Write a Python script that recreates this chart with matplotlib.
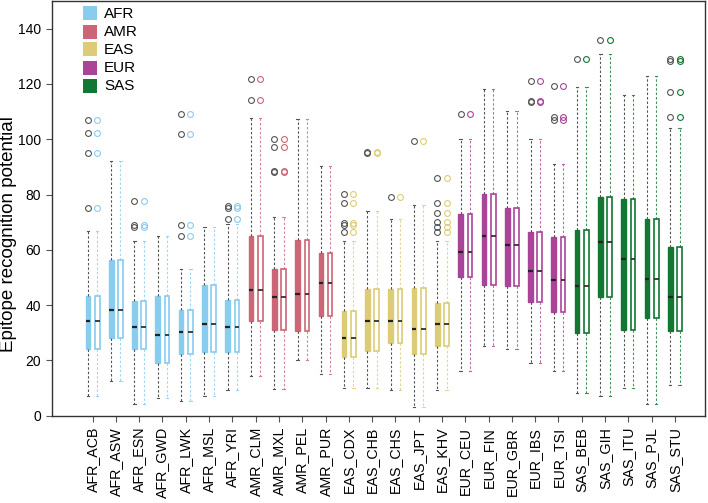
import matplotlib
matplotlib.use("Agg")
import matplotlib.pyplot as plt
from matplotlib.patches import Rectangle

plt.rcParams['font.family'] = ['Liberation Sans', 'DejaVu Sans']

populations = ["AFR_ACB", "AFR_ASW", "AFR_ESN", "AFR_GWD", "AFR_LWK", "AFR_MSL", "AFR_YRI",
               "AMR_CLM", "AMR_MXL", "AMR_PEL", "AMR_PUR",
               "EAS_CDX", "EAS_CHB", "EAS_CHS", "EAS_JPT", "EAS_KHV",
               "EUR_CEU", "EUR_FIN", "EUR_GBR", "EUR_IBS", "EUR_TSI",
               "SAS_BEB", "SAS_GIH", "SAS_ITU", "SAS_PJL", "SAS_STU"]
super_pops = ["AFR", "AMR", "EAS", "EUR", "SAS"]
pop_colors = ["#88CCEE", "#CC6677", "#DDCC77", "#AA4499", "#117733"]

whisker_low = [7.2, 12.4, 4.1, 6.3, 5.3, 7.2, 9.3,
               14.3, 9.5, 20.1, 15.1,
               10.1, 10.1, 9.3, 3.0, 9.3,
               16.3, 25.2, 24.0, 19.2, 16.3,
               8.1, 7.1, 10.1, 4.1, 11.1]
q1 = [24.0, 28.2, 24.0, 19.2, 22.2, 23.1, 23.0,
      34.1, 31.0, 30.5, 36.1,
      21.1, 23.5, 26.2, 22.2, 25.2,
      50.0, 47.1, 47.0, 41.2, 37.4,
      30.0, 43.0, 31.0, 35.4, 30.5]
median = [34.1, 38.2, 32.1, 29.2, 30.1, 33.1, 32.2,
          45.5, 43.0, 44.0, 48.1,
          28.0, 34.2, 34.2, 31.2, 33.1,
          59.2, 65.1, 61.8, 52.2, 49.0,
          47.0, 62.7, 56.7, 49.6, 43.1]
q3 = [43.3, 56.4, 41.6, 43.3, 38.1, 47.1, 41.9,
      64.9, 53.0, 63.5, 58.7,
      37.9, 45.7, 45.7, 46.2, 40.6,
      72.9, 80.1, 75.1, 66.4, 64.5,
      67.0, 79.0, 78.4, 71.0, 61.1]
whisker_high = [66.7, 92.0, 63.1, 65.1, 53.1, 68.1, 69.5,
                107.5, 71.9, 107.2, 90.2,
                63.1, 74.1, 71.0, 76.2, 63.1,
                100.2, 118.1, 110.2, 100.2, 91.1,
                118.9, 131.0, 115.9, 123.0, 104.0]
outliers = [[75.1, 95.1, 102.4, 107.1], [], [68.1, 68.9, 77.5], [], [65.1, 69.0, 101.9, 109.0], [], [71.0, 75.3, 75.9],
            [114.1, 121.9], [88.0, 88.5, 97.1, 100.1], [], [],
            [66.5, 68.9, 69.8, 77.1, 80.1], [95.0, 95.5], [79.2], [99.2], [66.5, 68.3, 69.9, 73.4, 77.0, 85.8],
            [109.0], [], [], [113.5, 114.0, 121.1], [107.1, 108.2, 119.2],
            [129.2], [136.0], [], [], [108.1, 117.1, 128.3, 129.2]]

W, H = 708, 503
fig = plt.figure(figsize=(W / 100, H / 100), dpi=100)
ax = fig.add_axes([52 / W, 1 - 415.7 / H, 653 / W, 414.7 / H])

for i, pop in enumerate(populations):
    c = pop_colors[super_pops.index(pop.split("_")[0])]
    st = dict(whislo=whisker_low[i], q1=q1[i], med=median[i], q3=q3[i],
              whishi=whisker_high[i], fliers=outliers[i])
    # filled box
    ax.bxp([st], positions=[i - 0.2], widths=0.2, patch_artist=True, capwidths=0.1,
           boxprops=dict(facecolor=c, edgecolor=c, linewidth=1.0),
           medianprops=dict(color="#222222", linewidth=1.6),
           whiskerprops=dict(color="#555555", linewidth=0.8, linestyle=(0, (2.2, 1.8))),
           capprops=dict(color="#555555", linewidth=0.8),
           flierprops=dict(marker="o", markersize=4.2, markerfacecolor="none",
                           markeredgecolor="#555555", markeredgewidth=0.8),
           manage_ticks=False)
    # outlined box
    ax.bxp([st], positions=[i + 0.2], widths=0.2, patch_artist=True, capwidths=0.1,
           boxprops=dict(facecolor="white", edgecolor=c, linewidth=1.2),
           medianprops=dict(color="#333333", linewidth=1.3),
           whiskerprops=dict(color=c, linewidth=0.8, linestyle=(0, (2.2, 1.8)), alpha=0.8),
           capprops=dict(color=c, linewidth=0.8, alpha=0.8),
           flierprops=dict(marker="o", markersize=4.2, markerfacecolor="none",
                           markeredgecolor=c, markeredgewidth=0.8),
           manage_ticks=False)

ax.set_xlim(-1.74, 26.29)
ax.set_ylim(0, 150)
ax.set_xticks(range(len(populations)))
ax.set_xticklabels(populations, rotation=90, fontsize=10.3)
ax.set_yticks(range(0, 141, 20))
ax.tick_params(axis="y", labelsize=10, length=4, width=0.8, color="#555555", pad=4)
ax.tick_params(axis="x", length=4, width=0.8, color="#555555", pad=4)
for s in ax.spines.values():
    s.set_color("#333333")
    s.set_linewidth(1.0)

fig.text(8.5 / W, 1 - 234 / H, "Epitope recognition potential", rotation=90,
         va="center", ha="center", fontsize=13.5)

# legend (manual, in figure pixel coordinates)
legend_y = [13.3, 31.7, 49.3, 67.7, 86.0]
for lab, col, yc in zip(super_pops, pop_colors, legend_y):
    fig.patches.append(Rectangle((83 / W, 1 - (yc + 7) / H), 14 / W, 14 / H,
                                 transform=fig.transFigure, facecolor=col,
                                 edgecolor="none", zorder=5))
    fig.text(104 / W, 1 - (yc + 0.5) / H, lab, va="center", ha="left", fontsize=11, zorder=6)

fig.savefig("out.png", dpi=100)
